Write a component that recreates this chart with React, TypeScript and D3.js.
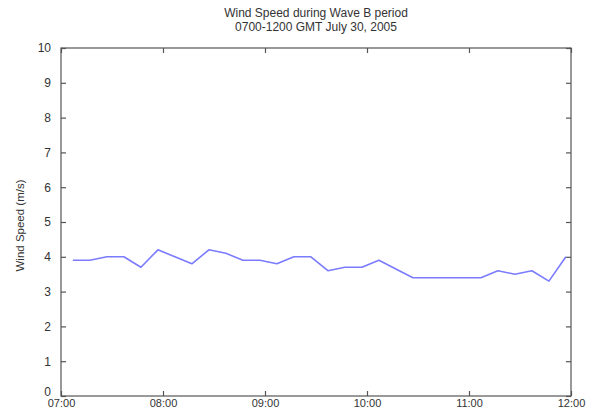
import { useEffect, useRef } from 'react';
import * as d3 from 'd3';

// minutes after 07:00 for each reading
const sampleMinutes: number[] = [
  7, 17, 27, 37, 47, 57, 67, 77, 87, 97, 107, 117, 127, 137, 147, 157, 167, 177, 187, 197,
  207, 217, 227, 237, 247, 257, 267, 277, 287, 297,
];
const windSpeed: number[] = [
  3.9, 3.9, 4.0, 4.0, 3.7, 4.2, 4.0, 3.8, 4.2, 4.1, 3.9, 3.9, 3.8, 4.0, 4.0, 3.6, 3.7, 3.7, 3.9, 3.65,
  3.4, 3.4, 3.4, 3.4, 3.4, 3.6, 3.5, 3.6, 3.3, 4.0,
];
const xTickLabels: string[] = ['07:00', '08:00', '09:00', '10:00', '11:00', '12:00'];
const yTicks: number[] = [0, 1, 2, 3, 4, 5, 6, 7, 8, 9, 10];
const titleLines: string[] = ['Wind Speed during Wave B period', '0700-1200 GMT July 30, 2005'];

export default function App() {
  const svgRef = useRef<SVGSVGElement>(null);

  useEffect(() => {
    if (!svgRef.current) return;
    const width = 593;
    const height = 408;
    const margin = { top: 48, right: 22, bottom: 12, left: 61 };
    const innerWidth = width - margin.left - margin.right;
    const innerHeight = height - margin.top - margin.bottom;
    const axisColor = '#555';
    const textColor = '#333';
    const font = 'Liberation Sans, Arial, sans-serif';

    const svg = d3.select(svgRef.current);
    svg.selectAll('*').remove();
    svg.attr('width', width).attr('height', height);

    const g = svg.append('g').attr('transform', `translate(${margin.left},${margin.top})`);

    const x = d3.scaleLinear().domain([0, 300]).range([0, innerWidth]);
    const y = d3.scaleLinear().domain([0, 10]).range([innerHeight, 0]);

    // box
    g.append('rect')
      .attr('width', innerWidth)
      .attr('height', innerHeight)
      .attr('fill', 'none')
      .attr('stroke', axisColor)
      .attr('stroke-width', 1.2);

    const xTickVals = xTickLabels.map((_, i) => i * 60);

    const styleAxis = (sel: d3.Selection<SVGGElement, unknown, null, undefined>) => {
      sel.select('.domain').remove();
      sel.selectAll('.tick line').attr('stroke', axisColor).attr('stroke-width', 1.2);
      sel.selectAll('text').attr('fill', textColor).attr('font-family', font).attr('font-size', 12);
    };

    // bottom axis, inward ticks
    const xAxis = g
      .append('g')
      .attr('transform', `translate(0,${innerHeight})`)
      .call(
        d3
          .axisBottom(x)
          .tickValues(xTickVals)
          .tickSize(-5)
          .tickFormat((_, i) => xTickLabels[i]),
      );
    styleAxis(xAxis);
    xAxis.selectAll('text').attr('font-size', 11).attr('y', 3).attr('dy', '0.71em');

    // top ticks
    const xTop = g.append('g').call(d3.axisTop(x).tickValues(xTickVals).tickSize(-5).tickFormat(() => ''));
    styleAxis(xTop);

    // left axis, inward ticks
    const yAxis = g.append('g').call(d3.axisLeft(y).tickValues(yTicks).tickSize(-5).tickPadding(10));
    styleAxis(yAxis);
    yAxis
      .selectAll<SVGTextElement, number>('text')
      .filter((d) => d === 0)
      .attr('dy', '-0.05em');

    // right ticks
    const yRight = g
      .append('g')
      .attr('transform', `translate(${innerWidth},0)`)
      .call(d3.axisRight(y).tickValues(yTicks).tickSize(-5).tickFormat(() => ''));
    styleAxis(yRight);

    // line
    const line = d3
      .line<number>()
      .x((_, i) => x(sampleMinutes[i]))
      .y((d) => y(d));
    g.append('path')
      .datum(windSpeed)
      .attr('d', line)
      .attr('fill', 'none')
      .attr('stroke', '#7b7bff')
      .attr('stroke-width', 1.6)
      .attr('stroke-linejoin', 'round');

    // y label
    g.append('text')
      .attr('transform', 'rotate(-90)')
      .attr('x', -y(4.9))
      .attr('y', -37)
      .attr('text-anchor', 'middle')
      .attr('fill', textColor)
      .attr('font-family', font)
      .attr('font-size', 11.5)
      .text('Wind Speed (m/s)');

    // title
    svg
      .selectAll('.title')
      .data(titleLines)
      .join('text')
      .attr('class', 'title')
      .attr('x', margin.left + innerWidth / 2)
      .attr('y', (_, i) => 17 + i * 14)
      .attr('text-anchor', 'middle')
      .attr('fill', textColor)
      .attr('font-family', font)
      .attr('font-size', 12)
      .text((d) => d);
  }, []);

  return (
    <svg
      ref={svgRef}
      style={{ position: 'absolute', left: 0, top: 0, background: '#fff', display: 'block' }}
    />
  );
}
